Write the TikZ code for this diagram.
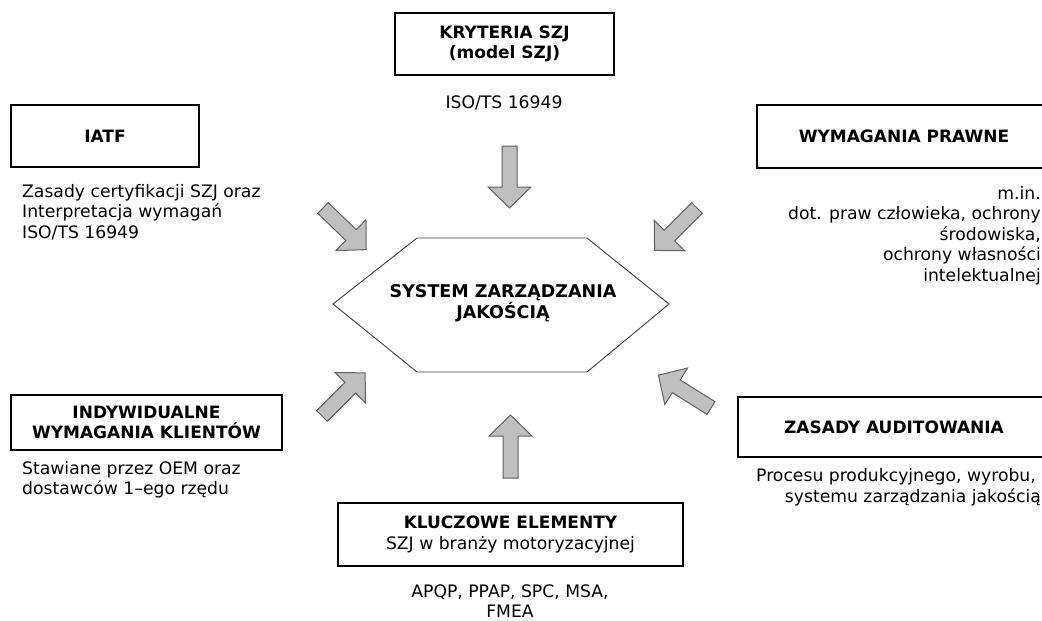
\documentclass[tikz,border=0pt]{standalone}
\usepackage{fontspec}
\setmainfont{DejaVu Sans}
\begin{document}
\begin{tikzpicture}[x=1pt,y=-1pt,
  every node/.style={font=\fontsize{17.2}{20.5}\selectfont, inner sep=0pt, text=black},
  bold/.style={font=\fontsize{17}{20}\selectfont\bfseries},
  box/.style={draw=black, line width=1.2pt, rectangle},
  hexline/.style={draw=black!75, line width=0.9pt},
  blockarrow/.style={draw=black!62, fill=black!25, line width=1pt, line join=miter},
  pics/barrow/.style={code={%
    \draw[blockarrow] (0,-7.5) -- ({#1-21},-7.5) -- ({#1-21},-21.5) -- (#1,0)
      -- ({#1-21},21.5) -- ({#1-21},7.5) -- (0,7.5) -- cycle;}}
]
\clip (0,0) rectangle (1042,621);
\fill[white] (0,0) rectangle (1042,621);

% central hexagon
\draw[hexline] (333,304) -- (417,238) -- (587,238) -- (669,304) -- (587,372) -- (417,372) -- cycle;
\node[align=center, bold, font=\fontsize{17.5}{21}\selectfont\bfseries] (core) at (503,303) {SYSTEM ZARZĄDZANIA\\JAKOŚCIĄ};

% top
\node[box, minimum width=219, minimum height=62, align=center, bold, font=\fontsize{17}{19.5}\selectfont\bfseries] (kryt) at (504.5,44) {KRYTERIA SZJ\\(model SZJ)};
\node (krytt) at (504,103) {ISO/TS 16949};

% IATF
\node[box, minimum width=188, minimum height=62, bold] (iatf) at (105,136) {IATF};
\node[anchor=west, align=left] (iatft) at (22,212) {Zasady certyfikacji SZJ oraz\\Interpretacja wymagań\\ISO/TS 16949};

% WYMAGANIA PRAWNE
\node[box, minimum width=294, minimum height=63, bold] (praw) at (904,136.5) {WYMAGANIA PRAWNE};
\node[anchor=east, align=right] (prawt) at (1041,235.5) {m.in.\\dot. praw człowieka, ochrony\\środowiska,\\ochrony własności\\intelektualnej};

% INDYWIDUALNE
\node[box, minimum width=271, minimum height=55, align=center, bold] (indy) at (146.5,422.5) {INDYWIDUALNE\\WYMAGANIA KLIENTÓW};
\node[anchor=west, align=left] (indyt) at (22,480) {Stawiane przez OEM oraz\\dostawców 1–ego rzędu};

% ZASADY AUDITOWANIA
\node[box, minimum width=312, minimum height=60, bold] (audyt) at (894,427) {ZASADY AUDITOWANIA};
\node[anchor=east, align=right] (audytt) at (1041,487) {Procesu produkcyjnego, wyrobu,\kern5pt\\systemu zarządzania jakością};

% KLUCZOWE ELEMENTY
\node[box, minimum width=345, minimum height=63, align=center] (klucz) at (510.5,534.5) {{\fontsize{17}{20}\selectfont\bfseries KLUCZOWE ELEMENTY}\\SZJ w branży motoryzacyjnej};
\node[align=center] (kluczt) at (510,601) {APQP, PPAP, SPC, MSA,\\FMEA};

% block arrows
\pic[rotate=-90] at (509.5,146) {barrow=62};
\pic[rotate=90] at (510.5,478) {barrow=63};
\pic[rotate=-44] at (323,208) {barrow=60};
\pic[rotate=45] at (322,416) {barrow=61};
\pic[rotate=-135] at (697,208) {barrow=60};
\pic[rotate=148] at (711,408) {barrow=62};
\end{tikzpicture}
\end{document}
